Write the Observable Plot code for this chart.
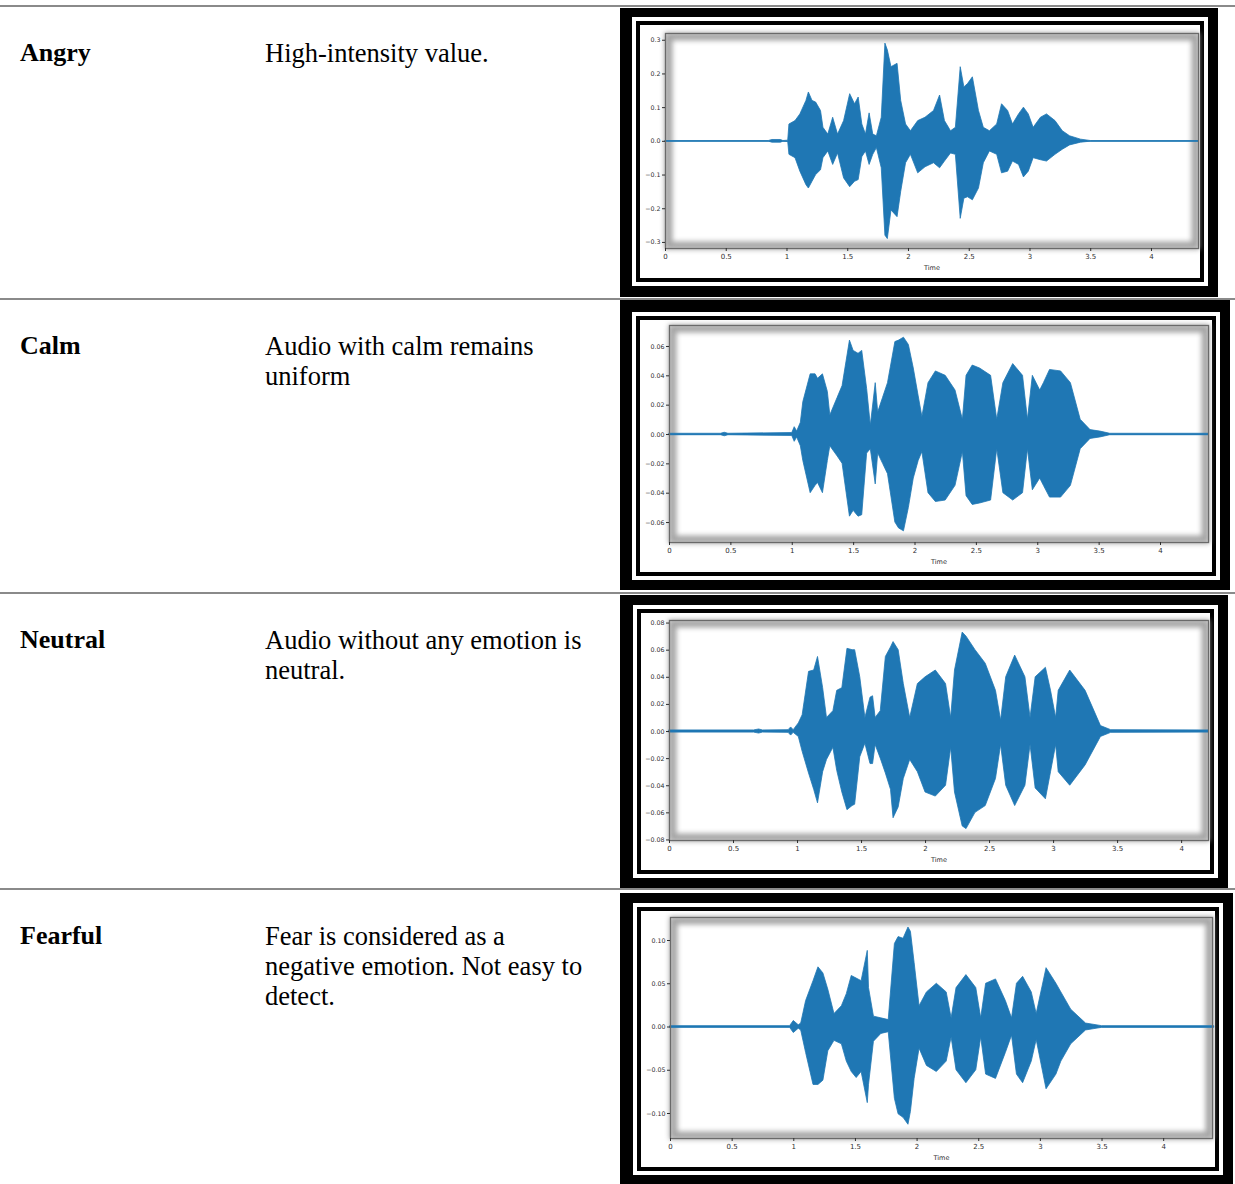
<!DOCTYPE html>
<html><head><meta charset="utf-8">
<script src="https://cdn.jsdelivr.net/npm/d3@7"></script>
<script src="https://cdn.jsdelivr.net/npm/@observablehq/plot@0.6"></script>
<style>
body{margin:0;background:#fff;width:1235px;height:1184px;position:relative;overflow:hidden;font-family:"Liberation Serif","Times New Roman",serif;}
.rule{position:absolute;left:0;width:1235px;height:2px;background:#8a8a8a;}
.lab{position:absolute;left:20px;font-weight:bold;font-size:26px;line-height:30px;color:#000;white-space:nowrap;}
.desc{position:absolute;left:265px;font-size:26.5px;line-height:30px;color:#000;white-space:nowrap;}
.box{position:absolute;}
.box div{position:absolute;}
</style></head><body>
<script>
// ---------- categories & texts ----------
const emotions = ["Angry", "Calm", "Neutral", "Fearful"];
const descriptions = [
  ["High-intensity value."],
  ["Audio with calm remains", "uniform"],
  ["Audio without any emotion is", "neutral."],
  ["Fear is considered as a", "negative emotion. Not easy to", "detect."]
];

// ---------- tick labels ----------
const xTickValues = [0, 0.5, 1, 1.5, 2, 2.5, 3, 3.5, 4];
const xAxisLabel = "Time";
const angryYTicks = [-0.3, -0.2, -0.1, 0, 0.1, 0.2, 0.3];
const calmYTicks = [-0.06, -0.04, -0.02, 0, 0.02, 0.04, 0.06];
const neutralYTicks = [-0.08, -0.06, -0.04, -0.02, 0, 0.02, 0.04, 0.06, 0.08];
const fearfulYTicks = [-0.10, -0.05, 0, 0.05, 0.10];

// ---------- waveform envelopes (time in s, amplitude) ----------
const angryTime  = [0,0.85,0.88,0.95,0.97,1.01,1.02,1.07,1.11,1.16,1.18,1.21,1.24,1.28,1.30,1.34,1.38,1.42,1.47,1.52,1.56,1.59,1.62,1.65,1.68,1.71,1.74,1.78,1.81,1.83,1.86,1.91,1.94,1.98,2.02,2.08,2.14,2.21,2.26,2.30,2.35,2.39,2.43,2.46,2.49,2.53,2.58,2.62,2.67,2.73,2.77,2.82,2.86,2.91,2.95,2.99,3.03,3.09,3.14,3.21,3.27,3.33,3.42,3.50,4.387];
const angryUpper = [0.001,0.001,0.004,0.004,0.001,0.002,0.05,0.06,0.08,0.12,0.145,0.12,0.115,0.09,0.04,0.02,0.07,0.02,0.06,0.14,0.11,0.13,0.05,0.02,0.083,0.02,0.015,0.07,0.29,0.27,0.22,0.23,0.12,0.05,0.03,0.06,0.07,0.09,0.136,0.06,0.03,0.04,0.22,0.16,0.17,0.19,0.09,0.04,0.03,0.05,0.11,0.09,0.05,0.08,0.10,0.08,0.04,0.07,0.08,0.06,0.03,0.015,0.005,0.001,0.001];
const angryLower = [-0.001,-0.001,-0.004,-0.004,-0.001,-0.002,-0.04,-0.05,-0.09,-0.13,-0.14,-0.12,-0.10,-0.086,-0.05,-0.03,-0.07,-0.036,-0.11,-0.136,-0.12,-0.115,-0.047,-0.03,-0.07,-0.04,-0.02,-0.08,-0.28,-0.29,-0.205,-0.225,-0.15,-0.065,-0.04,-0.095,-0.077,-0.065,-0.08,-0.06,-0.036,-0.04,-0.23,-0.17,-0.166,-0.175,-0.14,-0.065,-0.03,-0.04,-0.095,-0.09,-0.06,-0.07,-0.107,-0.09,-0.05,-0.056,-0.06,-0.04,-0.025,-0.012,-0.004,-0.001,-0.001];

const calmTime  = [0,0.42,0.45,0.48,1.00,1.02,1.04,1.07,1.09,1.15,1.19,1.21,1.25,1.29,1.31,1.37,1.41,1.47,1.50,1.54,1.57,1.61,1.64,1.68,1.70,1.74,1.78,1.84,1.87,1.91,1.95,1.99,2.03,2.06,2.11,2.17,2.25,2.33,2.39,2.42,2.47,2.53,2.62,2.67,2.72,2.80,2.88,2.92,2.96,3.02,3.05,3.10,3.19,3.27,3.35,3.43,3.51,3.59,4.391];
const calmUpper = [0.0005,0.0005,0.0012,0.0005,0.001,0.005,0.002,0.008,0.022,0.041,0.041,0.038,0.041,0.029,0.013,0.025,0.033,0.064,0.057,0.055,0.057,0.031,0.006,0.035,0.015,0.025,0.035,0.063,0.064,0.066,0.061,0.045,0.026,0.012,0.035,0.043,0.040,0.030,0.010,0.040,0.047,0.045,0.040,0.010,0.035,0.048,0.040,0.010,0.040,0.030,0.035,0.044,0.043,0.035,0.010,0.003,0.002,0.0005,0.0005];
const calmLower = [-0.0005,-0.0005,-0.0012,-0.0005,-0.001,-0.005,-0.002,-0.008,-0.018,-0.040,-0.035,-0.033,-0.040,-0.018,-0.008,-0.015,-0.020,-0.056,-0.052,-0.056,-0.055,-0.013,-0.010,-0.034,-0.013,-0.020,-0.027,-0.060,-0.064,-0.066,-0.050,-0.030,-0.018,-0.012,-0.040,-0.046,-0.045,-0.035,-0.012,-0.042,-0.048,-0.047,-0.045,-0.010,-0.040,-0.045,-0.040,-0.010,-0.038,-0.030,-0.035,-0.043,-0.043,-0.035,-0.010,-0.003,-0.002,-0.0005,-0.0005];

const neutralTime  = [0,0.66,0.70,0.73,0.93,0.95,0.97,1.01,1.04,1.09,1.13,1.16,1.20,1.23,1.28,1.31,1.35,1.39,1.43,1.45,1.49,1.53,1.57,1.59,1.61,1.65,1.69,1.73,1.75,1.79,1.83,1.88,1.94,2.00,2.08,2.16,2.20,2.23,2.29,2.32,2.39,2.47,2.55,2.59,2.63,2.70,2.78,2.82,2.86,2.94,2.98,3.02,3.04,3.13,3.25,3.37,3.45,4.21];
const neutralUpper = [0.0008,0.0008,0.0015,0.0008,0.001,0.003,0.001,0.006,0.012,0.044,0.045,0.055,0.032,0.010,0.015,0.030,0.032,0.061,0.060,0.060,0.040,0.010,0.025,0.026,0.010,0.015,0.055,0.062,0.066,0.060,0.035,0.010,0.035,0.040,0.045,0.035,0.010,0.045,0.073,0.070,0.060,0.050,0.030,0.008,0.040,0.056,0.040,0.010,0.040,0.047,0.030,0.010,0.030,0.045,0.030,0.004,0.001,0.0008];
const neutralLower = [-0.0008,-0.0008,-0.0015,-0.0008,-0.001,-0.003,-0.001,-0.004,-0.015,-0.031,-0.043,-0.053,-0.030,-0.021,-0.012,-0.029,-0.045,-0.058,-0.055,-0.054,-0.019,-0.009,-0.024,-0.024,-0.010,-0.020,-0.031,-0.043,-0.064,-0.056,-0.035,-0.021,-0.030,-0.045,-0.048,-0.040,-0.012,-0.045,-0.070,-0.072,-0.060,-0.055,-0.035,-0.010,-0.040,-0.055,-0.040,-0.010,-0.042,-0.050,-0.030,-0.010,-0.030,-0.040,-0.025,-0.004,-0.001,-0.0008];

const fearfulTime  = [0,0.97,1.00,1.04,1.06,1.10,1.16,1.20,1.24,1.28,1.33,1.39,1.43,1.47,1.51,1.55,1.60,1.61,1.65,1.71,1.77,1.82,1.85,1.89,1.93,1.95,1.98,2.02,2.08,2.16,2.24,2.28,2.32,2.40,2.48,2.52,2.56,2.64,2.72,2.77,2.81,2.86,2.93,2.97,3.05,3.13,3.17,3.25,3.37,3.50,4.41];
const fearfulUpper = [0.001,0.001,0.007,0.002,0.004,0.030,0.053,0.069,0.062,0.043,0.015,0.024,0.038,0.059,0.056,0.053,0.088,0.045,0.012,0.010,0.008,0.096,0.104,0.102,0.115,0.110,0.074,0.024,0.040,0.050,0.040,0.010,0.045,0.060,0.045,0.010,0.050,0.055,0.030,0.010,0.050,0.058,0.040,0.015,0.068,0.050,0.040,0.020,0.004,0.001,0.001];
const fearfulLower = [-0.001,-0.001,-0.007,-0.002,-0.004,-0.030,-0.067,-0.067,-0.062,-0.028,-0.016,-0.020,-0.040,-0.052,-0.059,-0.052,-0.088,-0.067,-0.017,-0.008,-0.006,-0.083,-0.101,-0.105,-0.113,-0.098,-0.060,-0.025,-0.045,-0.052,-0.040,-0.012,-0.050,-0.065,-0.050,-0.012,-0.055,-0.060,-0.030,-0.010,-0.055,-0.065,-0.040,-0.015,-0.072,-0.055,-0.040,-0.020,-0.004,-0.001,-0.001];

// ---------- layout (positions & sizes only) ----------
const ruleTops = [5, 298, 592, 888];
const panels = [
  {time: angryTime, upper: angryUpper, lower: angryLower, yTicks: angryYTicks, fmt: ".1f",
   xMax: 4.387, yDomain: [-0.318, 0.320],
   box: {left: 620, top: 8, width: 598, height: 289}, ins: {l: 20, t: 17, r: 18, b: 19},
   m: {l: 25, r: 2, t: 8, b: 30}},
  {time: calmTime, upper: calmUpper, lower: calmLower, yTicks: calmYTicks, fmt: ".2f",
   xMax: 4.391, yDomain: [-0.0736, 0.0743],
   box: {left: 620, top: 300, width: 610, height: 290}, ins: {l: 20, t: 20, r: 18, b: 18},
   m: {l: 29, r: 4, t: 5, b: 30}},
  {time: neutralTime, upper: neutralUpper, lower: neutralLower, yTicks: neutralYTicks, fmt: ".2f",
   xMax: 4.21, yDomain: [-0.0804, 0.0819],
   box: {left: 620, top: 595, width: 608, height: 293}, ins: {l: 21, t: 18, r: 18, b: 18},
   m: {l: 28, r: 2, t: 7, b: 30}},
  {time: fearfulTime, upper: fearfulUpper, lower: fearfulLower, yTicks: fearfulYTicks, fmt: ".2f",
   xMax: 4.396, yDomain: [-0.1289, 0.1266],
   box: {left: 620, top: 893, width: 613, height: 291}, ins: {l: 21, t: 18, r: 18, b: 17},
   m: {l: 29, r: 3, t: 6, b: 29}}
];

ruleTops.forEach(t => {
  const d = document.createElement("div");
  d.className = "rule"; d.style.top = t + "px";
  document.body.appendChild(d);
});

emotions.forEach((name, i) => {
  const top = ruleTops[i] + 33;
  const l = document.createElement("div");
  l.className = "lab"; l.style.top = top + "px"; l.textContent = name;
  document.body.appendChild(l);
  const d = document.createElement("div");
  d.className = "desc"; d.style.top = top + "px";
  d.innerHTML = descriptions[i].join("<br>");
  document.body.appendChild(d);
});

panels.forEach(p => {
  const {box, ins, m} = p;
  const outer = document.createElement("div");
  outer.className = "box";
  Object.assign(outer.style, {left: box.left + "px", top: box.top + "px", width: box.width + "px", height: box.height + "px", background: "#000"});
  const layer = (off, bg) => {
    const d = document.createElement("div");
    Object.assign(d.style, {left: (ins.l - off) + "px", top: (ins.t - off) + "px", right: (ins.r - off) + "px", bottom: (ins.b - off) + "px", background: bg});
    outer.appendChild(d);
    return d;
  };
  layer(8, "#fff");
  layer(4, "#000");
  const inner = layer(0, "#fff");
  document.body.appendChild(outer);

  const W = box.width - ins.l - ins.r;
  const H = box.height - ins.t - ins.b;
  const rows = p.time.map((t, i) => ({t, hi: p.upper[i], lo: p.lower[i]}));
  const svg = Plot.plot({
    width: W, height: H,
    marginLeft: m.l, marginRight: m.r, marginTop: m.t, marginBottom: m.b,
    style: {background: "transparent", fontFamily: "DejaVu Sans", fontSize: "6px", color: "#2e2e2e", overflow: "visible"},
    x: {domain: [0, p.xMax]},
    y: {domain: p.yDomain},
    marks: [
      Plot.frame({stroke: "#a6a6a6", strokeWidth: 8, inset: 3}),
      Plot.ruleY([0], {stroke: "#1f77b4", strokeWidth: 1, strokeOpacity: 0.7}),
      Plot.areaY(rows, {x: "t", y1: "lo", y2: "hi", fill: "#1f77b4", stroke: "#1f77b4", strokeWidth: 0.8, curve: "linear"}),
      Plot.frame({stroke: "#6a6a6a", strokeWidth: 1.3}),
      Plot.axisX({ticks: xTickValues, tickSize: 3, tickPadding: 2.5, tickFormat: d3.format(""), label: null, fontSize: 7}),
      Plot.axisY({ticks: p.yTicks, tickSize: 3, tickPadding: 2, tickFormat: d3.format(p.fmt), label: null, fontSize: 6.3}),
      Plot.text([xAxisLabel], {frameAnchor: "bottom", dy: 21, text: d => d, fontSize: 6.5, fill: "currentColor", textAnchor: "middle"})
    ]
  });
  const frames = svg.querySelectorAll('[aria-label="frame"]');
  if (frames.length) frames[0].style.filter = "blur(2.4px)";
  svg.style.position = "absolute";
  svg.style.left = "0px"; svg.style.top = "0px";
  inner.appendChild(svg);
});
</script>
</body></html>
